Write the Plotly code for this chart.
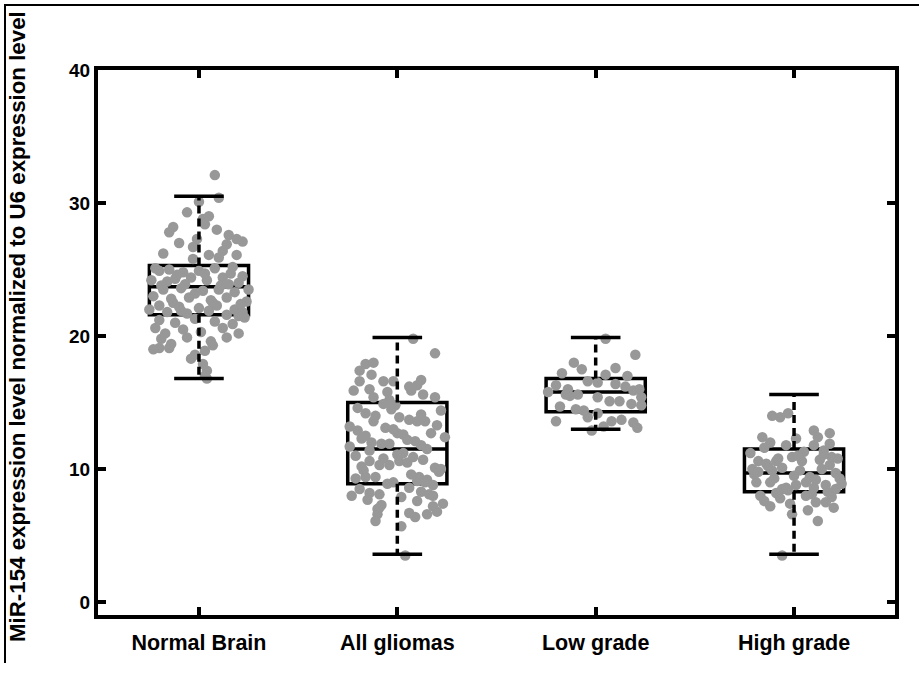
import plotly.graph_objects as go

categories = ["Normal Brain", "All gliomas", "Low grade", "High grade"]
positions = [1, 2, 3, 4]
y_ticks = [0, 10, 20, 30, 40]

# box statistics
q1 = [21.6, 8.9, 14.3, 8.3]
median = [23.7, 11.5, 15.8, 9.7]
q3 = [25.3, 15.0, 16.8, 11.5]
whisker_low = [16.8, 3.6, 13.0, 3.6]
whisker_high = [30.5, 19.9, 19.9, 15.6]

# individual samples: horizontal jitter offset (category units) and value
nb_dx = [0.08, 0.10, 0.00, -0.13, 0.03, 0.05, -0.10, -0.18, 0.15, 0.19, 0.19, 0.12, -0.01, -0.03, 0.05, -0.03, 0.22, 0.10, -0.22,
         -0.20, -0.15, -0.08, 0.00, 0.08, 0.16, 0.22, -0.24, -0.12, -0.04, 0.04, 0.12, 0.20, -0.18, -0.09, 0.02, 0.10, 0.18,
         -0.23, -0.14, -0.05, 0.06, 0.14, 0.24, -0.20, -0.10, 0.00, 0.09, 0.18, -0.16, -0.06, 0.05, 0.14, 0.22,
         -0.20, -0.12, -0.02, 0.08, 0.17, 0.23, -0.22, -0.17, -0.08, 0.01, 0.12, 0.20, -0.19, -0.14, -0.06, 0.06, 0.14,
         -0.20, -0.23, -0.15, 0.03, 0.07, -0.04, 0.02, 0.04, 0.03, 0.04, -0.02,
         -0.11, 0.11, -0.02, 0.17, -0.16, 0.25, -0.25, 0.20, -0.06, 0.02, 0.09, -0.15, 0.14,
         -0.07, 0.07, -0.19, 0.15, -0.13, 0.03, 0.21, -0.09]
nb_y = [32.1, 30.4, 30.1, 28.2, 28.4, 29.0, 27.0, 26.2, 27.6, 27.3, 26.1, 26.4, 27.3, 26.7, 26.1, 25.8, 27.1, 25.9, 25.1,
        24.9, 25.0, 24.8, 24.9, 25.1, 24.7, 24.5, 24.2, 24.3, 24.4, 24.2, 24.4, 24.0, 23.5, 23.6, 23.4, 23.5, 23.3,
        23.0, 22.8, 22.9, 22.7, 22.9, 22.6, 22.3, 22.2, 22.1, 22.3, 22.0, 21.8, 21.7, 21.9, 21.6, 21.8,
        21.2, 21.0, 21.3, 21.1, 20.9, 21.4, 20.6, 20.2, 20.5, 20.3, 20.6, 20.2, 19.8, 19.4, 19.9, 19.6, 19.9,
        19.1, 19.0, 19.1, 18.9, 19.3, 18.3, 17.9, 17.4, 17.0, 16.8, 18.6,
        24.6, 23.8, 23.2, 25.2, 24.1, 23.5, 22.0, 21.5, 29.3, 28.8, 28.0, 27.8, 26.9,
        23.9, 22.5, 23.8, 23.9, 22.5, 24.7, 22.4, 21.9]

ag_dx = [0.08, 0.19, -0.16, -0.12, -0.19, -0.13, -0.19, -0.07, -0.02, 0.12, 0.10, -0.14, -0.05, 0.07, 0.13, 0.19, -0.12,
         -0.16, -0.11, 0.01, 0.06, 0.10, 0.14, 0.00, 0.03, 0.17, -0.18, -0.13, -0.08, -0.04, 0.09, 0.12,
         -0.14, -0.09, -0.04, 0.01, 0.05, 0.13, 0.19, -0.16, -0.11, 0.11, 0.15, -0.19, -0.14, -0.09, 0.06, 0.12, 0.16,
         -0.08, 0.10, 0.18, 0.20, 0.15, 0.06, -0.10, -0.11, 0.04,
         -0.22, -0.20, -0.24, -0.21, 0.22, 0.24, 0.21, -0.01, -0.06, 0.03, 0.08, -0.17, -0.02, 0.18, -0.23, 0.23,
         -0.15, -0.10, -0.05, 0.02, 0.07, -0.20, 0.20, -0.03, 0.12, -0.12, 0.05, -0.07, 0.15, -0.18, 0.10, -0.04,
         -0.21, 0.22, 0.00, -0.14, 0.14, -0.09, 0.09, -0.24, 0.18, -0.02, 0.06, -0.16, -0.07, 0.02]
ag_y = [19.8, 18.7, 17.9, 18.0, 17.4, 17.1, 16.6, 16.6, 16.6, 16.7, 16.3, 16.0, 15.8, 15.9, 15.6, 15.4, 15.4,
        14.2, 14.0, 13.9, 13.7, 13.6, 13.6, 12.7, 12.6, 12.7, 12.3, 12.0, 11.9, 11.9, 12.1, 11.8,
        10.6, 10.3, 10.3, 10.6, 10.5, 10.7, 10.1, 9.4, 9.4, 9.4, 9.2, 8.5, 8.2, 8.1, 8.6, 8.3, 8.1,
        7.3, 7.6, 7.2, 6.8, 6.6, 6.7, 6.6, 6.1, 3.5,
        15.9, 14.6, 13.2, 11.0, 14.4, 12.4, 9.8, 14.8, 13.1, 11.2, 10.9, 9.9, 9.0, 8.8, 8.0, 7.4,
        7.7, 7.0, 8.9, 7.9, 9.6, 12.9, 13.3, 14.5, 14.1, 13.6, 12.2, 10.8, 11.5, 10.2, 9.1, 15.2,
        9.3, 10.0, 11.1, 11.4, 9.0, 7.1, 6.4, 11.7, 8.0, 13.0, 16.2, 12.5, 14.9, 5.7]

lg_dx = [0.05, 0.20, -0.11, -0.07, -0.17, 0.05, 0.16, -0.20, -0.14, -0.04, 0.01, 0.10, 0.19, 0.23,
         -0.13, -0.09, 0.01, 0.07, 0.12, 0.18, 0.23, -0.20, -0.04, 0.01, 0.08, 0.13, 0.19, 0.21, -0.02, -0.15,
         -0.24, -0.10, 0.15, 0.22, -0.18, 0.04, -0.06, 0.10]
lg_y = [19.8, 18.6, 18.0, 17.5, 17.2, 17.1, 17.0, 16.3, 16.0, 16.6, 16.5, 16.4, 15.9, 15.4,
        15.5, 15.6, 15.4, 15.1, 15.1, 14.9, 14.8, 13.6, 13.9, 14.2, 13.6, 13.7, 13.5, 13.1, 12.9, 15.6,
        15.8, 14.5, 16.2, 16.0, 14.7, 13.2, 14.4, 17.6]

hg_dx = [-0.11, -0.07, -0.03, 0.10, 0.18, -0.16, -0.12, -0.04, 0.01, 0.10, 0.15, 0.19, -0.18, -0.14, -0.09, -0.06, 0.04,
         0.13, 0.18, 0.21, -0.19, -0.12, -0.06, 0.01, 0.06, 0.10, 0.16, 0.21, -0.07, -0.02, 0.07, 0.11, 0.16, 0.20, 0.12, -0.06,
         -0.22, -0.20, -0.15, -0.10, -0.01, 0.05, 0.22, 0.24, -0.17, -0.09, 0.03, 0.08, 0.14, -0.13, 0.00, 0.18, -0.04, 0.09,
         -0.21, -0.11, 0.12, 0.23, -0.15, -0.03, 0.06, 0.19, -0.08, 0.15, -0.18, 0.02, 0.11, -0.12, 0.17, -0.01]
hg_y = [14.0, 13.9, 14.2, 12.9, 12.7, 12.4, 12.0, 11.8, 12.3, 11.8, 11.4, 10.9, 10.6, 10.4, 10.6, 10.1, 10.6,
        10.7, 10.3, 9.7, 9.0, 9.0, 8.5, 8.8, 9.0, 8.6, 8.8, 8.5, 7.8, 7.4, 6.9, 7.5, 7.5, 7.1, 6.1, 3.5,
        11.2, 9.6, 11.6, 9.3, 10.9, 11.3, 10.8, 8.9, 8.0, 8.2, 9.9, 9.4, 10.0, 10.2, 9.5, 11.9, 8.6, 8.1,
        10.0, 9.9, 12.4, 9.3, 7.6, 8.4, 8.0, 7.9, 10.8, 11.1, 9.8, 11.0, 9.2, 7.2, 8.3, 6.6]

dx_lists = [nb_dx, ag_dx, lg_dx, hg_dx]
y_lists = [nb_y, ag_y, lg_y, hg_y]

BOX_W = 0.5
CAP_W = 0.25
POINT_COLOR = "rgb(152,152,152)"
LINE_W = 3.5

fig = go.Figure()

# jittered points (below the boxes)
for pos, dxs, ys in zip(positions, dx_lists, y_lists):
    fig.add_trace(go.Scatter(
        x=[pos + d for d in dxs], y=ys, mode="markers",
        marker=dict(color=POINT_COLOR, size=10.5, line=dict(width=0)),
        showlegend=False, hoverinfo="y"))

# dashed whiskers and caps
for i, pos in enumerate(positions):
    fig.add_trace(go.Scatter(
        x=[pos, pos, None, pos, pos],
        y=[q3[i], whisker_high[i], None, q1[i], whisker_low[i]],
        mode="lines", line=dict(color="black", width=LINE_W, dash="8px,5px"),
        showlegend=False, hoverinfo="skip"))
    fig.add_trace(go.Scatter(
        x=[pos - CAP_W / 2, pos + CAP_W / 2, None, pos - CAP_W / 2, pos + CAP_W / 2],
        y=[whisker_high[i], whisker_high[i], None, whisker_low[i], whisker_low[i]],
        mode="lines", line=dict(color="black", width=LINE_W),
        showlegend=False, hoverinfo="skip"))

# boxes
fig.add_trace(go.Box(
    x=positions, q1=q1, median=median, q3=q3,
    lowerfence=q1, upperfence=q3,
    width=BOX_W, fillcolor="rgba(0,0,0,0)",
    line=dict(color="black", width=LINE_W),
    boxpoints=False, showlegend=False, whiskerwidth=0))

FONT = "Liberation Sans"
L, R, T, B = 98, 24, 70, 58
W, H = 919, 673
PW, PH = W - L - R, H - T - B


def px_x(p):
    return (p - L) / PW


def px_y(p):
    return 1 - (p - T) / PH


fig.update_layout(
    width=W, height=H,
    margin=dict(l=L, r=R, t=T, b=B),
    paper_bgcolor="white", plot_bgcolor="white",
    font=dict(family=FONT, color="black"),
    xaxis=dict(
        range=[0.491, 4.509], tickmode="array", tickvals=positions,
        ticktext=["<b>%s</b>" % c for c in categories],
        tickfont=dict(size=21.5, family=FONT), ticks="inside", ticklen=8, tickwidth=4,
        tickcolor="black", showline=True, linecolor="black", linewidth=4,
        mirror="ticks", showgrid=False, zeroline=False, ticklabelstandoff=5),
    yaxis=dict(
        range=[-0.97, 40], tickmode="array", tickvals=y_ticks,
        ticktext=["<b>%d</b>" % v for v in y_ticks],
        tickfont=dict(size=19, family=FONT), ticks="inside", ticklen=8, tickwidth=4,
        tickcolor="black", showline=True, linecolor="black", linewidth=4,
        mirror="ticks", showgrid=False, zeroline=False),
    annotations=[
        dict(text="<b>MiR-154 expression level normalized to U6 expression level</b>",
             xref="paper", yref="paper", x=px_x(17), y=px_y(327),
             xanchor="center", yanchor="middle", textangle=-90, showarrow=False,
             font=dict(size=22.3, family=FONT, color="black")),
    ],
    shapes=[
        dict(type="line", xref="paper", yref="paper", x0=px_x(4), x1=px_x(925),
             y0=px_y(5), y1=px_y(5), line=dict(color="black", width=2)),
        dict(type="line", xref="paper", yref="paper", x0=px_x(5), x1=px_x(5),
             y0=px_y(4), y1=px_y(663), line=dict(color="black", width=2)),
    ],
)

fig.write_html("out.html", config={"displayModeBar": False},
               post_script="document.body.style.margin='0';")
